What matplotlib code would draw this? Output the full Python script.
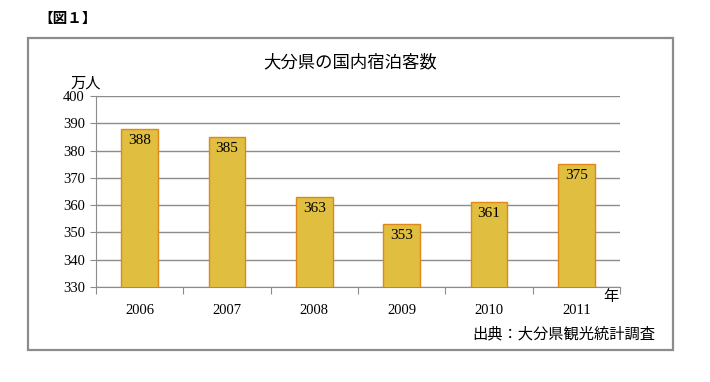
import matplotlib.pyplot as plt
from matplotlib.patches import Rectangle

plt.rcParams['font.family'] = ['Noto Sans CJK JP', 'DejaVu Sans']

years = ['2006', '2007', '2008', '2009', '2010', '2011']
guests = [388, 385, 363, 353, 361, 375]
yticks = [330, 340, 350, 360, 370, 380, 390, 400]

W, H = 710, 382
fig = plt.figure(figsize=(W / 100, H / 100), dpi=100)

def fx(px):
    return px / W

def fy(py):
    return 1 - py / H

# outer frame
fig.patches.append(Rectangle((fx(28), fy(350)), fx(673) - fx(28), fy(38) - fy(350),
                             transform=fig.transFigure, fill=False,
                             edgecolor='#8c8c8c', linewidth=1.6))

ax = fig.add_axes([fx(96), fy(287), fx(620) - fx(96), fy(96) - fy(287)])
x = range(len(years))
ax.bar(x, guests, width=0.42, color='#e0be40', edgecolor='#e0861a', linewidth=1.0,
       zorder=3)
for i, v in enumerate(guests):
    ax.text(i, v - 1.8, str(v), ha='center', va='top', fontsize=11,
            family='Liberation Serif', zorder=4)

ax.set_xlim(-0.5, len(years) - 0.5)
ax.set_ylim(330, 400)
ax.set_yticks(yticks)
ax.set_yticklabels([str(t) for t in yticks], family='Liberation Serif', fontsize=10.5)
ax.set_xticks([i + 0.5 for i in range(-1, len(years))])
ax.set_xticklabels([])
ax.set_xticks(list(x), minor=True)
ax.set_xticklabels(years, minor=True, family='Liberation Serif', fontsize=10.5)
ax.tick_params(axis='x', which='minor', length=0, pad=12)
ax.tick_params(axis='x', which='major', length=5, color='#8c8c8c')
ax.tick_params(axis='y', length=4, color='#8c8c8c', pad=4)
ax.grid(axis='y', color='#8c8c8c', linewidth=1.0, zorder=0)
for s in ['top', 'right']:
    ax.spines[s].set_visible(False)
for s in ['left', 'bottom']:
    ax.spines[s].set_color('#8c8c8c')

fig.text(fx(38), fy(18), '【図１】', fontsize=10.5, fontweight='bold', va='center', ha='left')
fig.text(fx(350), fy(62), '大分県の国内宿泊客数', fontsize=12.5,
         va='center', ha='center')
fig.text(fx(70), fy(83), '万人', fontsize=11, va='center', ha='left')
fig.text(fx(603), fy(297), '年', fontsize=11, va='center', ha='left')
fig.text(fx(655), fy(334), '出典：大分県観光統計調査', fontsize=11, va='center', ha='right')

fig.savefig('out.png', dpi=100)
